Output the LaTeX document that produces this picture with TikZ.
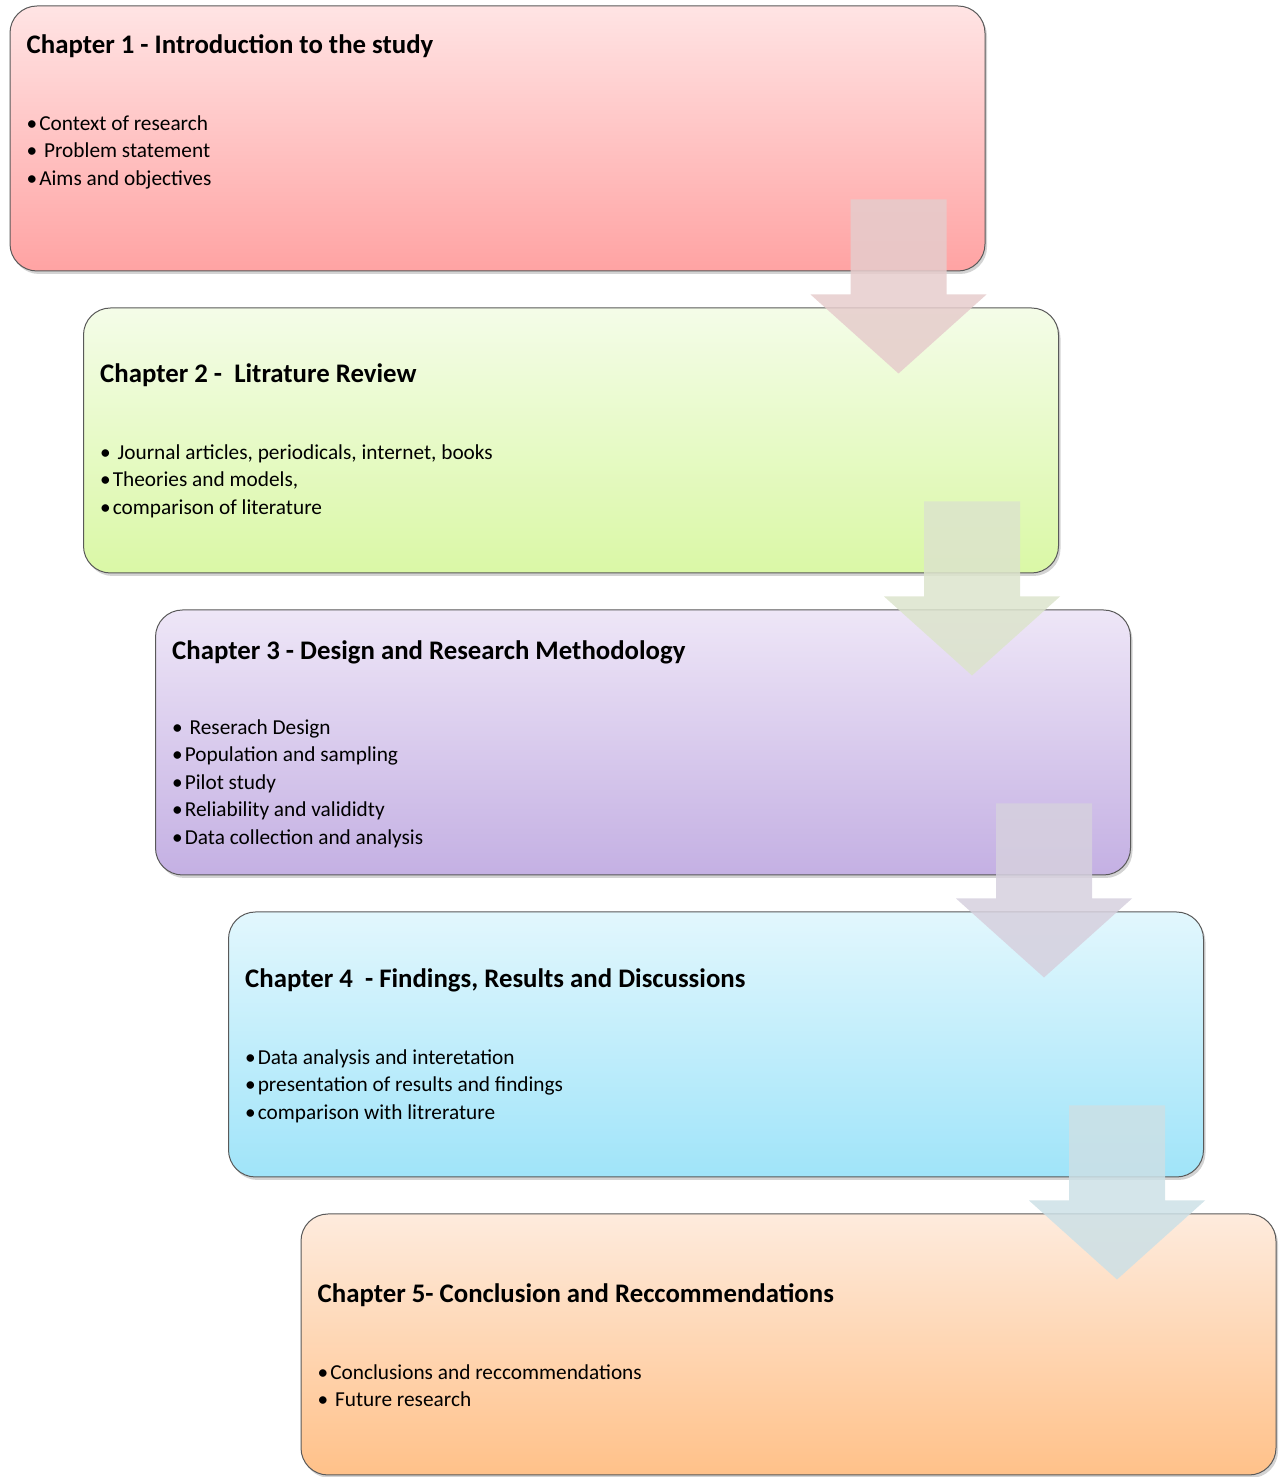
\documentclass[tikz,border=0pt]{standalone}
\usepackage{fontspec}
\setmainfont{Carlito}
\usepackage{tikz}
\usetikzlibrary{calc}
\usetikzlibrary{shadows}

\definecolor{redtop}{HTML}{FFE4E4}
\definecolor{redbot}{HTML}{FFA3A3}
\definecolor{greentop}{HTML}{F4FCE8}
\definecolor{greenbot}{HTML}{DAF8A6}
\definecolor{violettop}{HTML}{EEE6F7}
\definecolor{violetbot}{HTML}{C4B0E3}
\definecolor{bluetop}{HTML}{E2F7FD}
\definecolor{bluebot}{HTML}{A0E4F9}
\definecolor{orangetop}{HTML}{FEEBDD}
\definecolor{orangebot}{HTML}{FFC189}
\definecolor{arrred}{HTML}{E6CCCC}
\definecolor{arrgreen}{HTML}{DCE4CC}
\definecolor{arrviolet}{HTML}{D6D0DE}
\definecolor{arrblue}{HTML}{CCE0E6}

\newcommand{\bul}{•\kern2pt}

\begin{document}
\begin{tikzpicture}[x=1pt,y=1pt,
		chapbox/.style={draw=black!65,line width=1pt,rounded corners=27pt,minimum width=975pt,minimum height=265pt,inner sep=0pt,
			drop shadow={shadow xshift=2pt,shadow yshift=-3pt,opacity=0.35}},
		chaptitle/.style={anchor=base west,inner sep=0pt,font=\fontsize{26.8}{30}\selectfont\bfseries},
		chaplist/.style={anchor=base west,inner sep=0pt,align=left,font=\fontsize{21.3}{27.5}\selectfont},
		blockarr/.style={opacity=0.85}]
			\useasboundingbox (0,0) rectangle (1283,1477);

			\node[chapbox,top color=redtop,bottom color=redbot] (ch1) at (497.5,1338.5) {};
			\node[chapbox,top color=greentop,bottom color=greenbot] (ch2) at (571,1036.5) {};
			\node[chapbox,top color=violettop,bottom color=violetbot] (ch3) at (643,734.5) {};
			\node[chapbox,top color=bluetop,bottom color=bluebot] (ch4) at (716,432.5) {};
			\node[chapbox,top color=orangetop,bottom color=orangebot,minimum height=261pt] (ch5) at (788.5,132.5) {};

			\node[chaptitle] (t1) at ($(ch1.north west)+(17,-48)$) {Chapter 1 - Introduction to the study};
			\node[chaplist] (l1) at ($(ch1.north west)+(17,-180)$) {\bul Context of research\\\bul\ Problem statement\\\bul Aims and objectives};

			\node[chaptitle] (t2) at ($(ch2.north west)+(17,-75)$) {Chapter 2 -~ Litrature Review};
			\node[chaplist] (l2) at ($(ch2.north west)+(17,-207)$) {\bul\ Journal articles, periodicals, internet, books\\\bul Theories and models,\\\bul comparison of literature};

			\node[chaptitle] (t3) at ($(ch3.north west)+(17,-50)$) {Chapter 3 - Design and Research Methodology};
			\node[chaplist] (l3) at ($(ch3.north west)+(17,-235)$) {\bul\ Reserach Design\\\bul Population and sampling\\\bul Pilot study\\\bul Reliability and valididty\\\bul Data collection and analysis};

			\node[chaptitle] (t4) at ($(ch4.north west)+(17,-76)$) {Chapter 4~ - Findings, Results and Discussions};
			\node[chaplist] (l4) at ($(ch4.north west)+(17,-208)$) {\bul Data analysis and interetation\\\bul presentation of results and findings\\\bul comparison with litrerature};

			\node[chaptitle] (t5) at ($(ch5.north west)+(17,-89)$) {Chapter 5- Conclusion and Reccommendations};
			\node[chaplist] (l5) at ($(ch5.north west)+(17,-193.5)$) {\bul Conclusions and reccommendations\\\bul\ Future research};

			\fill[blockarr,arrred] ($(ch1.south east)+(-135,72)$) -- ++(96,0) -- ++(0,-95) -- ++(40,0) -- ++(-88,-79) -- ++(-88,79) -- ++(40,0) -- cycle;
			\fill[blockarr,arrgreen] ($(ch2.south east)+(-135,72)$) -- ++(96,0) -- ++(0,-95) -- ++(40,0) -- ++(-88,-79) -- ++(-88,79) -- ++(40,0) -- cycle;
			\fill[blockarr,arrviolet] ($(ch3.south east)+(-135,72)$) -- ++(96,0) -- ++(0,-95) -- ++(40,0) -- ++(-88,-79) -- ++(-88,79) -- ++(40,0) -- cycle;
			\fill[blockarr,arrblue] ($(ch4.south east)+(-135,72)$) -- ++(96,0) -- ++(0,-95) -- ++(40,0) -- ++(-88,-79) -- ++(-88,79) -- ++(40,0) -- cycle;
		\end{tikzpicture}
\end{document}
